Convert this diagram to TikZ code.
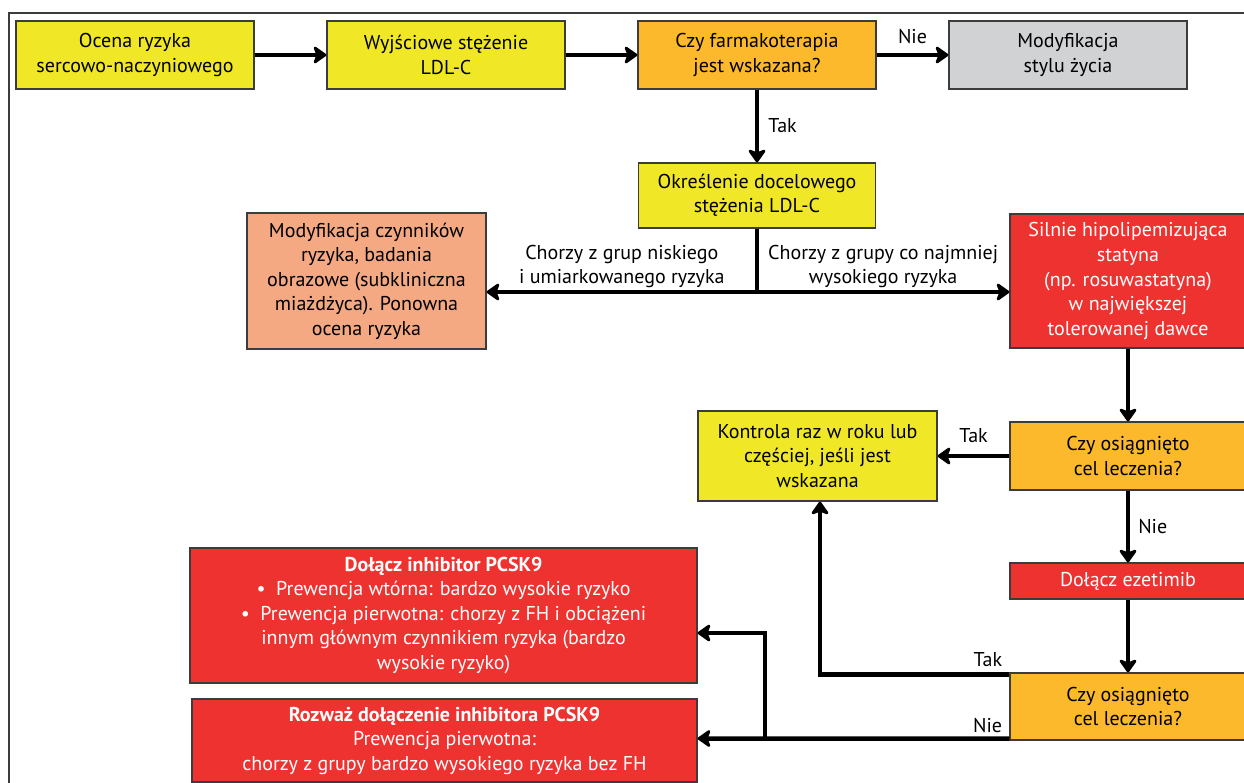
\documentclass[tikz,border=0pt]{standalone}
\usepackage{fontspec}
\setmainfont{PT Sans}
\usetikzlibrary{arrows.meta}
\definecolor{boxyellow}{RGB}{240,232,39}
\definecolor{boxorange}{RGB}{252,185,44}
\definecolor{boxred}{RGB}{237,50,47}
\definecolor{boxsalmon}{RGB}{245,169,130}
\definecolor{boxgray}{RGB}{209,210,212}
\definecolor{boxline}{RGB}{60,60,60}
\begin{document}
\begin{tikzpicture}[x=1pt, y=-1pt,
  box/.style={draw=boxline, line width=1.3pt, align=center, inner sep=2pt,
              font=\fontsize{20}{24.5}\selectfont},
  yellowbox/.style={box, fill=boxyellow},
  orangebox/.style={box, fill=boxorange},
  graybox/.style={box, fill=boxgray},
  salmonbox/.style={box, fill=boxsalmon},
  redbox/.style={box, fill=boxred, text=white},
  link/.style={line width=4.5pt},
  arrow/.style={link, -{Stealth[length=15pt, width=21pt, inset=4pt, round]}},
  lbl/.style={font=\fontsize{20}{24}\selectfont, align=center, inner sep=2pt}
]
  \clip (0,0) rectangle (1244,783);
  \draw[boxline, line width=1.6pt] (9,800) -- (9,13) -- (1260,13);

  \node[yellowbox, minimum width=238, minimum height=68] (ocena) at (135,55)
    {Ocena ryzyka\\sercowo-naczyniowego};
  \node[yellowbox, minimum width=238, minimum height=68] (wyjsc) at (446,55)
    {Wyjściowe stężenie\\LDL-C};
  \node[orangebox, minimum width=238, minimum height=68] (farm) at (757,55)
    {Czy farmakoterapia\\jest wskazana?};
  \node[graybox, minimum width=238, minimum height=68] (styl) at (1068,55)
    {Modyfikacja\\stylu życia};
  \node[yellowbox, minimum width=237, minimum height=65] (cel) at (757,195.5)
    {Określenie docelowego\\stężenia LDL-C};
  \node[salmonbox, minimum width=239, minimum height=136] (czynn) at (366.5,281)
    {Modyfikacja czynników\\ryzyka, badania\\obrazowe (subkliniczna\\miażdżyca). Ponowna\\ocena ryzyka};
  \node[redbox, minimum width=236, minimum height=134] (statyna) at (1128,281)
    {Silnie hipolipemizująca\\statyna\\(np. rosuwastatyna)\\w największej\\tolerowanej dawce};
  \node[yellowbox, minimum width=239, minimum height=90] (kontrola) at (817.5,456)
    {Kontrola raz w roku lub\\częściej, jeśli jest\\wskazana};
  \node[orangebox, minimum width=236, minimum height=68] (czy1) at (1128,456)
    {Czy osiągnięto\\cel leczenia?};
  \node[redbox, minimum width=236, minimum height=36] (ezet) at (1128,581)
    {Dołącz ezetimib};
  \node[orangebox, minimum width=236, minimum height=67] (czy2) at (1128,706.5)
    {Czy osiągnięto\\cel leczenia?};
  \node[redbox, minimum width=507, minimum height=135] (pcsk) at (443.5,615.5)
    {\textbf{Dołącz inhibitor PCSK9}\\\textbullet\ \ Prewencja wtórna: bardzo wysokie ryzyko\\
     \textbullet\ \ Prewencja pierwotna: chorzy z FH i obciążeni\\innym głównym czynnikiem ryzyka (bardzo\\wysokie ryzyko)};
  \node[redbox, minimum width=505, minimum height=83] (rozwaz) at (444.5,740.5)
    {\textbf{Rozważ dołączenie inhibitora PCSK9}\\Prewencja pierwotna:\\chorzy z grupy bardzo wysokiego ryzyka bez FH};

  \draw[arrow] (ocena) -- (wyjsc);
  \draw[arrow] (wyjsc) -- (farm);
  \draw[arrow] (farm) -- node[lbl, above, yshift=7pt]{Nie} (styl);
  \draw[arrow] (farm) -- node[lbl, right, xshift=7pt]{Tak} (cel);

  \coordinate (split) at (757,292);
  \draw[link] (cel) -- ([yshift=-2pt]split);
  \draw[arrow] (split) -- node[lbl, above]{Chorzy z grup niskiego\\i umiarkowanego ryzyka}
    (split -| czynn.east);
  \draw[arrow] (split) -- node[lbl, above]{Chorzy z grupy co najmniej\\wysokiego ryzyka}
    (split -| statyna.west);

  \draw[arrow] (statyna) -- (czy1);
  \draw[arrow] (czy1) -- node[lbl, above, pos=0.5, yshift=9pt]{Tak} (kontrola);
  \draw[arrow] (czy1) -- node[lbl, right, xshift=6pt]{Nie} (ezet);
  \draw[arrow] (ezet) -- (czy2);

  \draw[arrow] ([yshift=-2pt]czy2.north west) node[lbl, above left, xshift=-3pt, yshift=3pt]{Tak}
    -| ([xshift=2.5pt]kontrola.south);
  \coordinate (nieturn) at (763,738);
  \draw[arrow] ([yshift=2pt]czy2.south west) node[lbl, above left, xshift=-3pt, yshift=2pt]{Nie}
    -- ([yshift=2pt]rozwaz.east);
  \draw[arrow] ([xshift=2pt]nieturn) |- ([yshift=-17.5pt]pcsk.east);
\end{tikzpicture}
\end{document}
